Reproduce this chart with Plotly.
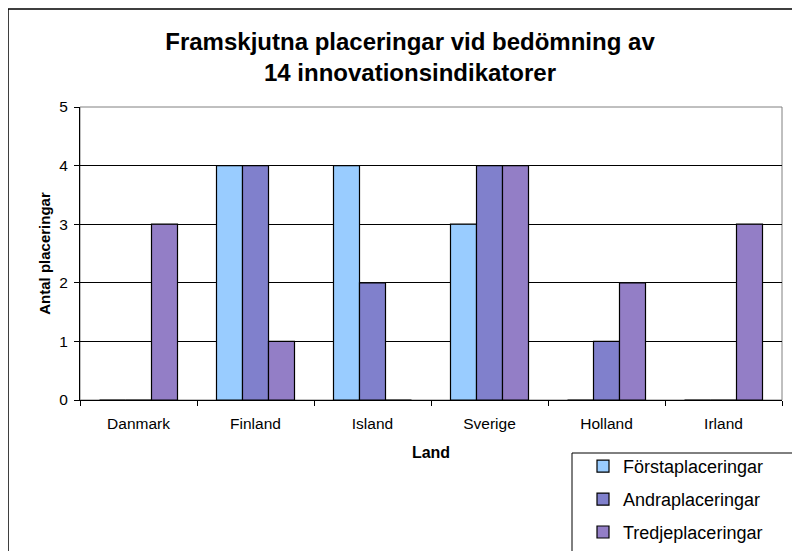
import plotly.graph_objects as go

categories = ["Danmark", "Finland", "Island", "Sverige", "Holland", "Irland"]
forsta = [0, 4, 4, 3, 0, 0]
andra = [0, 4, 2, 4, 1, 0]
tredje = [3, 1, 0, 4, 2, 3]
series_names = ["Förstaplaceringar", "Andraplaceringar", "Tredjeplaceringar"]
colors = ["#99CCFF", "#8080CC", "#937EC6"]
y_ticks = [0, 1, 2, 3, 4, 5]

FONT = "Liberation Sans, Arial, sans-serif"

fig = go.Figure()
for i, (name, vals) in enumerate(zip(series_names, [forsta, andra, tredje])):
    fig.add_trace(go.Bar(
        x=categories, y=vals, name=name, legendgroup=name,
        marker=dict(color=colors[i], line=dict(color="#000000", width=1.2)),
    ))

# The page body adds an 8px offset; work in screen px and convert.
OFF = 8
W, H = 800, 551
# plot area in screen px: x 80..782, y 107..400
L, R, T, B = 80, 782, 107, 400
def px_x(p): return (p - L) / (R - L)
def px_y(p): return (B - p) / (B - T)

fig.update_layout(
    width=W, height=H,
    margin=dict(l=L - OFF, r=W - (R - OFF), t=T - OFF, b=H - (B - OFF), pad=0,
                autoexpand=False),
    paper_bgcolor="white", plot_bgcolor="white",
    font=dict(family=FONT, size=15.5, color="#000000"),
    barmode="group", bargap=1.5/4.5, bargroupgap=0,
    title=dict(
        text="<b>Framskjutna placeringar vid bedömning av<br>14 innovationsindikatorer</b>",
        font=dict(family=FONT, size=24, color="#000000"),
        x=px_x(410), xref="paper", xanchor="center",
        y=1 - 41.5 / H, yref="container", yanchor="top",
    ),
    xaxis=dict(
        title=dict(text="<b>Land</b>", font=dict(size=16), standoff=16),
        tickson="boundaries", ticks="outside", ticklen=5, tickcolor="#000000",
        ticklabelstandoff=9,
        showline=True, linecolor="#000000", linewidth=1,
        showgrid=False, tickfont=dict(size=15.5),
    ),
    yaxis=dict(
        title=dict(text="<b>Antal placeringar</b>", font=dict(size=15), standoff=5),
        range=[0, 5], tickvals=y_ticks, ticks="outside", ticklen=5, tickcolor="#000000",
        ticklabelstandoff=3,
        showline=True, linecolor="#000000", linewidth=1,
        showgrid=True, gridcolor="#000000", gridwidth=1,
        zeroline=False, tickfont=dict(size=15.5),
    ),
    legend=dict(
        x=px_x(583), xanchor="left", y=px_y(448), yanchor="top",
        font=dict(family=FONT, size=18), bgcolor="rgba(0,0,0,0)",
        borderwidth=0, tracegroupgap=6.5, traceorder="grouped",
    ),
    showlegend=True,
)

# outer chart border and legend box
fig.add_shape(type="rect", xref="paper", yref="paper",
              x0=px_x(8), x1=px_x(812), y0=px_y(565), y1=px_y(9),
              line=dict(color="#000000", width=1.5), layer="below")
fig.add_shape(type="rect", xref="paper", yref="paper",
              x0=px_x(572), x1=px_x(812), y0=px_y(565), y1=px_y(453),
              line=dict(color="#000000", width=1), layer="above")
# plot area border (gray top/right)
fig.add_shape(type="rect", xref="paper", yref="paper",
              x0=0, x1=1, y0=0, y1=1,
              line=dict(color="#808080", width=1), layer="below")

fig.write_html("out.html")
